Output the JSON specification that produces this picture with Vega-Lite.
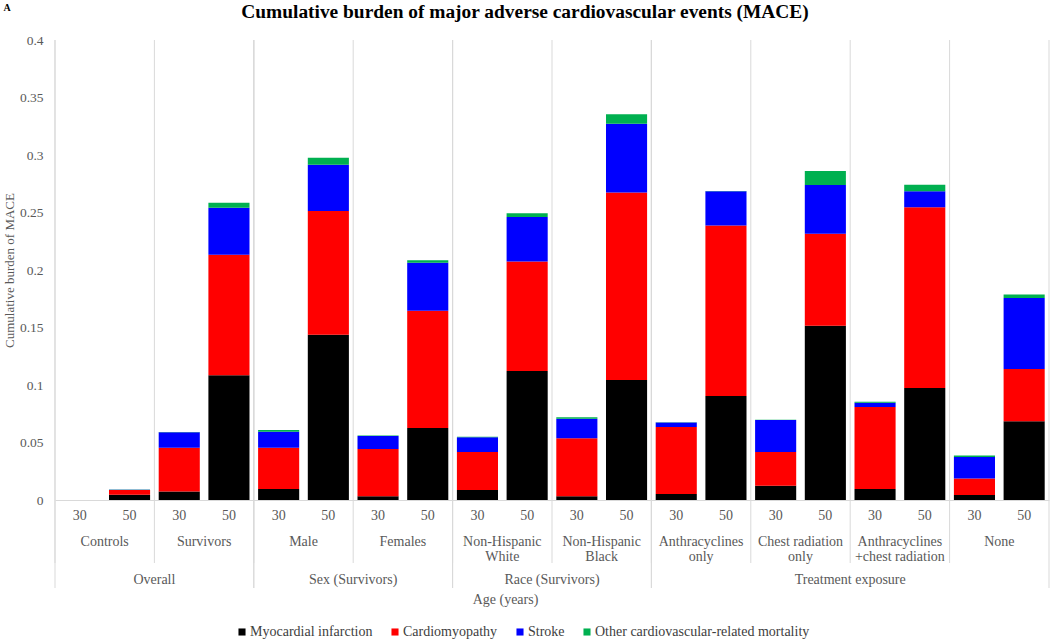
{
  "$schema": "https://vega.github.io/schema/vega-lite/v6.json",
  "description": "Cumulative burden of MACE by group and age, stacked by event type",
  "width": 994,
  "height": 460,
  "autosize": {"type": "none"},
  "padding": {"left": 55, "top": 40, "right": 1, "bottom": 142},
  "background": "white",
  "config": {
    "view": {"stroke": null},
    "font": "Liberation Serif"
  },
  "title": {
    "text": "Cumulative burden of major adverse cardiovascular events (MACE)",
    "font": "Liberation Serif",
    "fontSize": 19.4,
    "fontWeight": "bold",
    "color": "#000000",
    "anchor": "middle",
    "dx": -27,
    "offset": -20
  },
  "datasets": {
    "mace": [
      {"group": "Controls", "age": "30", "cause": "Myocardial infarction", "value": 0},
      {"group": "Controls", "age": "30", "cause": "Cardiomyopathy", "value": 0},
      {"group": "Controls", "age": "30", "cause": "Stroke", "value": 0},
      {"group": "Controls", "age": "30", "cause": "Other cardiovascular-related mortality", "value": 0},
      {"group": "Controls", "age": "50", "cause": "Myocardial infarction", "value": 0.0046},
      {"group": "Controls", "age": "50", "cause": "Cardiomyopathy", "value": 0.0041},
      {"group": "Controls", "age": "50", "cause": "Stroke", "value": 0.0002},
      {"group": "Controls", "age": "50", "cause": "Other cardiovascular-related mortality", "value": 0.0002},
      {"group": "Survivors", "age": "30", "cause": "Myocardial infarction", "value": 0.0075},
      {"group": "Survivors", "age": "30", "cause": "Cardiomyopathy", "value": 0.038},
      {"group": "Survivors", "age": "30", "cause": "Stroke", "value": 0.0134},
      {"group": "Survivors", "age": "30", "cause": "Other cardiovascular-related mortality", "value": 0.0003},
      {"group": "Survivors", "age": "50", "cause": "Myocardial infarction", "value": 0.1084},
      {"group": "Survivors", "age": "50", "cause": "Cardiomyopathy", "value": 0.1049},
      {"group": "Survivors", "age": "50", "cause": "Stroke", "value": 0.0409},
      {"group": "Survivors", "age": "50", "cause": "Other cardiovascular-related mortality", "value": 0.0043},
      {"group": "Male", "age": "30", "cause": "Myocardial infarction", "value": 0.0096},
      {"group": "Male", "age": "30", "cause": "Cardiomyopathy", "value": 0.0359},
      {"group": "Male", "age": "30", "cause": "Stroke", "value": 0.0139},
      {"group": "Male", "age": "30", "cause": "Other cardiovascular-related mortality", "value": 0.0015},
      {"group": "Male", "age": "50", "cause": "Myocardial infarction", "value": 0.1438},
      {"group": "Male", "age": "50", "cause": "Cardiomyopathy", "value": 0.1075},
      {"group": "Male", "age": "50", "cause": "Stroke", "value": 0.0403},
      {"group": "Male", "age": "50", "cause": "Other cardiovascular-related mortality", "value": 0.0061},
      {"group": "Females", "age": "30", "cause": "Myocardial infarction", "value": 0.0032},
      {"group": "Females", "age": "30", "cause": "Cardiomyopathy", "value": 0.0411},
      {"group": "Females", "age": "30", "cause": "Stroke", "value": 0.0114},
      {"group": "Females", "age": "30", "cause": "Other cardiovascular-related mortality", "value": 0.0003},
      {"group": "Females", "age": "50", "cause": "Myocardial infarction", "value": 0.0626},
      {"group": "Females", "age": "50", "cause": "Cardiomyopathy", "value": 0.102},
      {"group": "Females", "age": "50", "cause": "Stroke", "value": 0.0418},
      {"group": "Females", "age": "50", "cause": "Other cardiovascular-related mortality", "value": 0.002},
      {"group": "Non-Hispanic White", "age": "30", "cause": "Myocardial infarction", "value": 0.0087},
      {"group": "Non-Hispanic White", "age": "30", "cause": "Cardiomyopathy", "value": 0.033},
      {"group": "Non-Hispanic White", "age": "30", "cause": "Stroke", "value": 0.0128},
      {"group": "Non-Hispanic White", "age": "30", "cause": "Other cardiovascular-related mortality", "value": 0.0004},
      {"group": "Non-Hispanic White", "age": "50", "cause": "Myocardial infarction", "value": 0.1122},
      {"group": "Non-Hispanic White", "age": "50", "cause": "Cardiomyopathy", "value": 0.0953},
      {"group": "Non-Hispanic White", "age": "50", "cause": "Stroke", "value": 0.0386},
      {"group": "Non-Hispanic White", "age": "50", "cause": "Other cardiovascular-related mortality", "value": 0.0032},
      {"group": "Non-Hispanic Black", "age": "30", "cause": "Myocardial infarction", "value": 0.0032},
      {"group": "Non-Hispanic Black", "age": "30", "cause": "Cardiomyopathy", "value": 0.0504},
      {"group": "Non-Hispanic Black", "age": "30", "cause": "Stroke", "value": 0.0171},
      {"group": "Non-Hispanic Black", "age": "30", "cause": "Other cardiovascular-related mortality", "value": 0.0012},
      {"group": "Non-Hispanic Black", "age": "50", "cause": "Myocardial infarction", "value": 0.1043},
      {"group": "Non-Hispanic Black", "age": "50", "cause": "Cardiomyopathy", "value": 0.1632},
      {"group": "Non-Hispanic Black", "age": "50", "cause": "Stroke", "value": 0.0597},
      {"group": "Non-Hispanic Black", "age": "50", "cause": "Other cardiovascular-related mortality", "value": 0.0082},
      {"group": "Anthracyclines only", "age": "30", "cause": "Myocardial infarction", "value": 0.0052},
      {"group": "Anthracyclines only", "age": "30", "cause": "Cardiomyopathy", "value": 0.0583},
      {"group": "Anthracyclines only", "age": "30", "cause": "Stroke", "value": 0.004},
      {"group": "Anthracyclines only", "age": "30", "cause": "Other cardiovascular-related mortality", "value": 0.0002},
      {"group": "Anthracyclines only", "age": "50", "cause": "Myocardial infarction", "value": 0.0904},
      {"group": "Anthracyclines only", "age": "50", "cause": "Cardiomyopathy", "value": 0.1482},
      {"group": "Anthracyclines only", "age": "50", "cause": "Stroke", "value": 0.0298},
      {"group": "Anthracyclines only", "age": "50", "cause": "Other cardiovascular-related mortality", "value": 0.0003},
      {"group": "Chest radiation only", "age": "30", "cause": "Myocardial infarction", "value": 0.0125},
      {"group": "Chest radiation only", "age": "30", "cause": "Cardiomyopathy", "value": 0.0292},
      {"group": "Chest radiation only", "age": "30", "cause": "Stroke", "value": 0.0279},
      {"group": "Chest radiation only", "age": "30", "cause": "Other cardiovascular-related mortality", "value": 0.0002},
      {"group": "Chest radiation only", "age": "50", "cause": "Myocardial infarction", "value": 0.1516},
      {"group": "Chest radiation only", "age": "50", "cause": "Cardiomyopathy", "value": 0.08},
      {"group": "Chest radiation only", "age": "50", "cause": "Stroke", "value": 0.0423},
      {"group": "Chest radiation only", "age": "50", "cause": "Other cardiovascular-related mortality", "value": 0.0122},
      {"group": "Anthracyclines +chest radiation", "age": "30", "cause": "Myocardial infarction", "value": 0.0096},
      {"group": "Anthracyclines +chest radiation", "age": "30", "cause": "Cardiomyopathy", "value": 0.0713},
      {"group": "Anthracyclines +chest radiation", "age": "30", "cause": "Stroke", "value": 0.0037},
      {"group": "Anthracyclines +chest radiation", "age": "30", "cause": "Other cardiovascular-related mortality", "value": 0.0009},
      {"group": "Anthracyclines +chest radiation", "age": "50", "cause": "Myocardial infarction", "value": 0.0974},
      {"group": "Anthracyclines +chest radiation", "age": "50", "cause": "Cardiomyopathy", "value": 0.1571},
      {"group": "Anthracyclines +chest radiation", "age": "50", "cause": "Stroke", "value": 0.0139},
      {"group": "Anthracyclines +chest radiation", "age": "50", "cause": "Other cardiovascular-related mortality", "value": 0.0058},
      {"group": "None", "age": "30", "cause": "Myocardial infarction", "value": 0.0043},
      {"group": "None", "age": "30", "cause": "Cardiomyopathy", "value": 0.0145},
      {"group": "None", "age": "30", "cause": "Stroke", "value": 0.0186},
      {"group": "None", "age": "30", "cause": "Other cardiovascular-related mortality", "value": 0.0012},
      {"group": "None", "age": "50", "cause": "Myocardial infarction", "value": 0.0684},
      {"group": "None", "age": "50", "cause": "Cardiomyopathy", "value": 0.0455},
      {"group": "None", "age": "50", "cause": "Stroke", "value": 0.0618},
      {"group": "None", "age": "50", "cause": "Other cardiovascular-related mortality", "value": 0.0029}
    ],
    "sections": [
      {"category": "Overall", "first": "Controls", "last": "Survivors", "groups": 2},
      {"category": "Sex (Survivors)", "first": "Male", "last": "Females", "groups": 2},
      {"category": "Race (Survivors)", "first": "Non-Hispanic White", "last": "Non-Hispanic Black", "groups": 2},
      {"category": "Treatment exposure", "first": "Anthracyclines only", "last": "None", "groups": 4}
    ]
  },
  "layer": [
    {
      "data": {"name": "mace"},
      "transform": [{"filter": "datum.cause == 'Myocardial infarction' && datum.age == '30'"}],
      "mark": {"type": "rule", "color": "#d9d9d9", "strokeWidth": 1, "y2Offset": 63},
      "encoding": {
        "x": {
          "field": "group",
          "type": "nominal",
          "bandPosition": 0,
          "axis": {
            "orient": "top",
            "labels": false,
            "ticks": false,
            "domain": false,
            "grid": false,
            "title": "A",
            "titleFont": "Liberation Serif",
            "titleFontSize": 10,
            "titleFontWeight": "bold",
            "titleColor": "#000000",
            "titleAngle": 0,
            "titleAlign": "left",
            "titleBaseline": "top",
            "titleX": -52,
            "titleY": -38
          }
        },
        "y": {"datum": 0.4},
        "y2": {"datum": 0}
      }
    },
    {
      "data": {"name": "sections"},
      "mark": {"type": "rule", "color": "#d9d9d9", "strokeWidth": 1, "y2Offset": 88},
      "encoding": {
        "x": {"field": "first", "type": "nominal", "bandPosition": 0, "axis": null},
        "y": {"datum": 0.4},
        "y2": {"datum": 0}
      }
    },
    {
      "data": {"name": "sections"},
      "mark": {"type": "rule", "color": "#d9d9d9", "strokeWidth": 1, "y2Offset": 88},
      "encoding": {
        "x": {"field": "last", "type": "nominal", "bandPosition": 1, "axis": null},
        "y": {"datum": 0.4},
        "y2": {"datum": 0}
      }
    },
    {
      "data": {"name": "mace"},
      "transform": [
        {"calculate": "indexof(['Myocardial infarction', 'Cardiomyopathy', 'Stroke', 'Other cardiovascular-related mortality'], datum.cause)", "as": "stackRank"}
      ],
      "mark": {"type": "bar"},
      "encoding": {
        "x": {
          "field": "group",
          "type": "nominal",
          "sort": null,
          "scale": {
            "domain": ["Controls", "Survivors", "Male", "Females", "Non-Hispanic White", "Non-Hispanic Black", "Anthracyclines only", "Chest radiation only", "Anthracyclines +chest radiation", "None"],
            "paddingInner": 0,
            "paddingOuter": 0
          },
          "axis": {
            "orient": "bottom",
            "title": "Age (years)",
            "titleFont": "Liberation Serif",
            "titleFontSize": 14,
            "titleFontWeight": "normal",
            "titleColor": "#595959",
            "titleX": 450,
            "titleY": 92,
            "titleBaseline": "top",
            "labelExpr": "indexof(datum.label, ' only') > 0 ? [replace(datum.label, ' only', ''), 'only'] : indexof(datum.label, ' ') > 0 ? [slice(datum.label, 0, indexof(datum.label, ' ')), slice(datum.label, indexof(datum.label, ' ') + 1)] : datum.label",
            "labelAngle": 0,
            "labelBaseline": "top",
            "labelPadding": 34,
            "labelLineHeight": 15,
            "labelFont": "Liberation Serif",
            "labelFontSize": 14,
            "labelColor": "#595959",
            "labelOverlap": false,
            "labelFlush": false,
            "labelLimit": 0,
            "ticks": false,
            "grid": false,
            "domainColor": "#d9d9d9"
          }
        },
        "xOffset": {
          "field": "age",
          "type": "nominal",
          "scale": {"domain": ["30", "50"], "paddingInner": 0.173, "paddingOuter": 0.0865}
        },
        "y": {
          "field": "value",
          "type": "quantitative",
          "stack": "zero",
          "scale": {"domain": [0, 0.4], "nice": false},
          "axis": {
            "title": "Cumulative burden of MACE",
            "values": [0, 0.05, 0.1, 0.15, 0.2, 0.25, 0.3, 0.35, 0.4],
            "format": ".2~f",
            "ticks": false,
            "domain": false,
            "grid": false,
            "labelPadding": 12,
            "labelFont": "Liberation Serif",
            "labelFontSize": 13.5,
            "labelColor": "#595959",
            "titleFont": "Liberation Serif",
            "titleFontSize": 13,
            "titleFontWeight": "normal",
            "titleColor": "#595959",
            "titleAngle": -90,
            "titleAlign": "center",
            "titleBaseline": "alphabetic",
            "titleX": -42,
            "titleY": 230
          }
        },
        "color": {
          "field": "cause",
          "type": "nominal",
          "sort": ["Myocardial infarction", "Cardiomyopathy", "Stroke", "Other cardiovascular-related mortality"],
          "scale": {
            "domain": ["Myocardial infarction", "Cardiomyopathy", "Stroke", "Other cardiovascular-related mortality"],
            "range": ["#000000", "#ff0000", "#0000ff", "#00b050"]
          },
          "legend": {
            "orient": "none",
            "legendX": 180,
            "legendY": 585,
            "direction": "horizontal",
            "columns": 4,
            "title": null,
            "symbolType": "square",
            "symbolSize": 50,
            "symbolStrokeWidth": 0,
            "labelFont": "Liberation Serif",
            "labelFontSize": 14,
            "labelColor": "#404040",
            "labelOffset": 1,
            "labelLimit": 0,
            "columnPadding": 15
          }
        },
        "order": {"field": "stackRank", "type": "quantitative", "sort": "ascending"}
      }
    },
    {
      "data": {"name": "mace"},
      "transform": [{"filter": "datum.cause == 'Myocardial infarction'"}],
      "mark": {"type": "text", "baseline": "top", "dy": 9, "font": "Liberation Serif", "fontSize": 14, "color": "#595959"},
      "encoding": {
        "x": {"field": "group", "type": "nominal", "axis": null},
        "xOffset": {"field": "age", "type": "nominal"},
        "y": {"datum": 0},
        "text": {"field": "age", "type": "nominal"}
      }
    },
    {
      "data": {"name": "sections"},
      "transform": [{"filter": "datum.groups == 2"}],
      "mark": {"type": "text", "baseline": "top", "dy": 73, "font": "Liberation Serif", "fontSize": 14, "color": "#595959"},
      "encoding": {
        "x": {"field": "first", "type": "nominal", "bandPosition": 1, "axis": null},
        "y": {"datum": 0},
        "text": {"field": "category", "type": "nominal"}
      }
    },
    {
      "data": {"name": "sections"},
      "transform": [{"filter": "datum.groups == 4"}],
      "mark": {"type": "text", "baseline": "top", "dy": 73, "font": "Liberation Serif", "fontSize": 14, "color": "#595959"},
      "encoding": {
        "x": {"field": "first", "type": "nominal", "bandPosition": 2, "axis": null},
        "y": {"datum": 0},
        "text": {"field": "category", "type": "nominal"}
      }
    }
  ],
  "resolve": {"axis": {"x": "independent"}}
}
